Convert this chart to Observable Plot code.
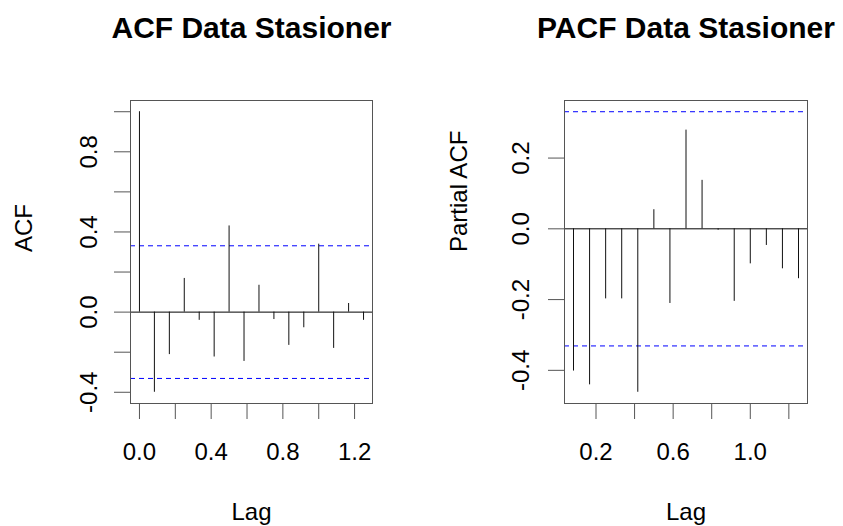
<!DOCTYPE html>
<html><head><meta charset="utf-8">
<script src="https://cdn.jsdelivr.net/npm/d3@7"></script>
<script src="https://cdn.jsdelivr.net/npm/@observablehq/plot@0.6"></script>
<style>
body{margin:0;background:#fff;}
#wrap{position:relative;width:843px;height:526px;overflow:hidden;background:#fff;font-family:"Liberation Sans",Arial,sans-serif;}
#wrap svg{position:absolute;top:0;}
</style></head><body><div id="wrap"></div>
<script>
// ACF values (lag in years, monthly data)
const acfLag = [0, 0.0833, 0.1667, 0.25, 0.3333, 0.4167, 0.5, 0.5833, 0.6667, 0.75, 0.8333, 0.9167, 1.0, 1.0833, 1.1667, 1.25];
const acfVal = [1.0, -0.400, -0.212, 0.168, -0.041, -0.224, 0.430, -0.246, 0.134, -0.037, -0.166, -0.078, 0.339, -0.181, 0.043, -0.041];
// PACF values
const pacfLag = [0.0833, 0.1667, 0.25, 0.3333, 0.4167, 0.5, 0.5833, 0.6667, 0.75, 0.8333, 0.9167, 1.0, 1.0833, 1.1667, 1.25];
const pacfVal = [-0.402, -0.441, -0.198, -0.198, -0.462, 0.054, -0.211, 0.279, 0.137, -0.004, -0.205, -0.099, -0.047, -0.113, -0.141];
// confidence limit
const ci = 0.331;
// ticks and labels
const acfXTicks = [0, 0.2, 0.4, 0.6, 0.8, 1.0, 1.2];
const acfXLabels = [0, 0.4, 0.8, 1.2];
const acfYTicks = [-0.4, -0.2, 0, 0.2, 0.4, 0.6, 0.8, 1.0];
const acfYLabels = [-0.4, 0, 0.4, 0.8];
const pacfXTicks = [0.2, 0.4, 0.6, 0.8, 1.0, 1.2];
const pacfXLabels = [0.2, 0.6, 1.0];
const pacfYTicks = [-0.4, -0.2, 0, 0.2];
const pacfYLabels = [-0.4, -0.2, 0, 0.2];

const wrap = document.getElementById("wrap");
const FONT = '"Liberation Sans", Arial, sans-serif';

function panel(o) {
  const ext = ([a, b]) => { const p = (b - a) * 0.04; return [a - p, b + p]; };
  const xd = ext([d3.min(o.lags), d3.max(o.lags)]);
  const yd = ext([Math.min(-ci, d3.min(o.vals)), Math.max(ci, d3.max(o.vals))]);
  const data = o.lags.map((l, i) => ({lag: l, value: o.vals[i]}));
  const svg = Plot.plot({
    width: o.width, height: 526,
    marginLeft: o.marginLeft, marginRight: o.marginRight, marginTop: 100, marginBottom: 123,
    style: {fontFamily: FONT, background: "transparent", color: "black", overflow: "visible"},
    x: {domain: xd}, y: {domain: yd},
    marks: [
      Plot.ruleY([0], {stroke: "black"}),
      Plot.ruleY([ci, -ci], {stroke: "#0000ff", strokeDasharray: "5,4"}),
      Plot.ruleX(data, {x: "lag", y1: 0, y2: "value", stroke: "#111"}),
      Plot.frame({stroke: "#555"}),
      Plot.axisX(o.xTicks, {tickSize: 16, stroke: "#555", fill: "none", label: null}),
      Plot.axisY(o.yTicks, {tickSize: 16, stroke: "#555", fill: "none", label: null}),
      Plot.text(o.xLabels, {x: d => d, frameAnchor: "bottom", dy: 49, text: d => d.toFixed(1), fontSize: 24, lineAnchor: "middle", fill: "black"}),
      Plot.text(o.yLabels, {y: d => d, frameAnchor: "left", dx: o.yLabelDx, rotate: -90, text: d => d.toFixed(1), fontSize: 24, lineAnchor: "middle", textAnchor: "middle", fill: "black"}),
      Plot.text([o.ylabel], {frameAnchor: "left", dx: o.yTitleDx, rotate: -90, fontSize: 24, lineAnchor: "middle", text: d => d, fill: "black"}),
      Plot.text(["Lag"], {frameAnchor: "bottom", dy: 109, fontSize: 24, lineAnchor: "middle", text: d => d, fill: "black"}),
      Plot.text([o.title], {frameAnchor: "top", dy: -72.6, fontSize: 30, fontWeight: "bold", lineAnchor: "middle", text: d => d, fill: "black"})
    ]
  });
  svg.style.left = o.left + "px";
  wrap.append(svg);
}

panel({lags: acfLag, vals: acfVal, left: 0, width: 421, marginLeft: 130, marginRight: 49,
  title: "ACF Data Stasioner", ylabel: "ACF", xTicks: acfXTicks, xLabels: acfXLabels,
  yTicks: acfYTicks, yLabels: acfYLabels, yLabelDx: -41, yTitleDx: -106});
panel({lags: pacfLag, vals: pacfVal, left: 421, width: 422, marginLeft: 143, marginRight: 36,
  title: "PACF Data Stasioner", ylabel: "Partial ACF", xTicks: pacfXTicks, xLabels: pacfXLabels,
  yTicks: pacfYTicks, yLabels: pacfYLabels, yLabelDx: -43, yTitleDx: -105});
</script>
</body></html>
